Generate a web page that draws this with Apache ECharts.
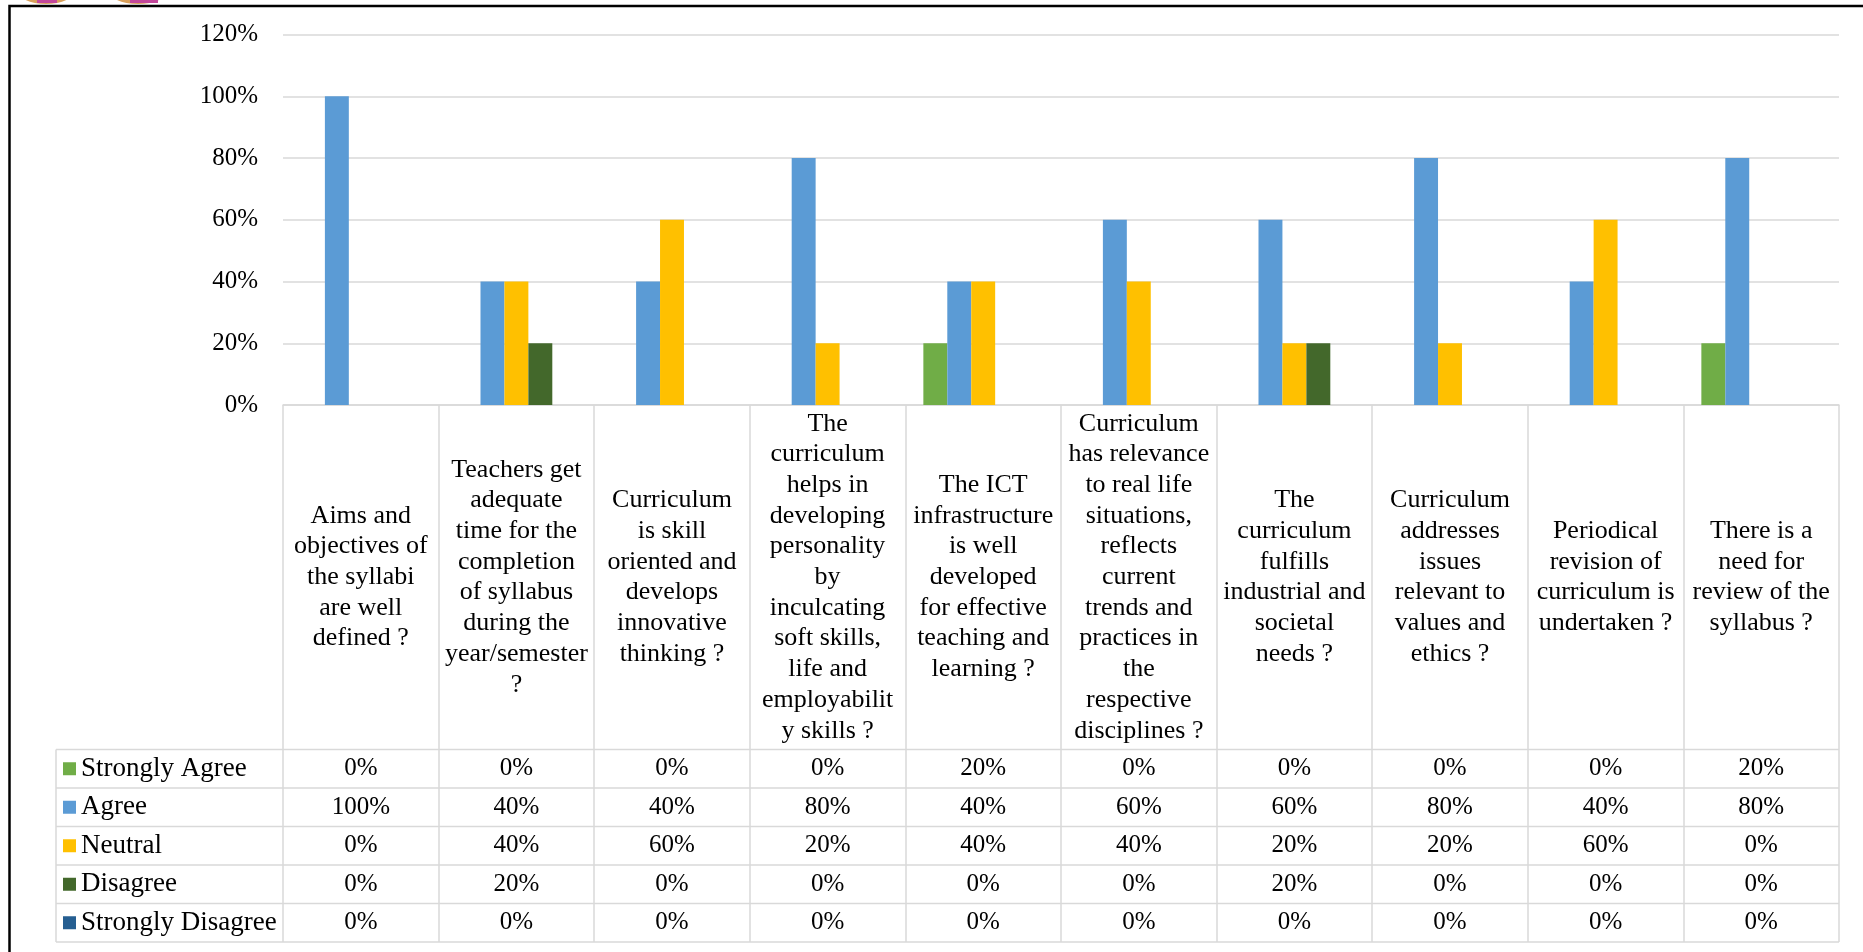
<!DOCTYPE html>
<html>
<head>
<meta charset="utf-8">
<script src="https://cdn.jsdelivr.net/npm/echarts@6/dist/echarts.min.js"></script>
<style>
html,body{margin:0;padding:0;background:#fff;}
#chart{width:1863px;height:952px;}
</style>
</head>
<body>
<div id="chart"></div>
<script>
// ---- data ----
var categories = [
  'Aims and\nobjectives of\nthe syllabi\nare well\ndefined ?',
  'Teachers get\nadequate\ntime for the\ncompletion\nof syllabus\nduring the\nyear/semester\n?',
  'Curriculum\nis skill\noriented and\ndevelops\ninnovative\nthinking ?',
  'The\ncurriculum\nhelps in\ndeveloping\npersonality\nby\ninculcating\nsoft skills,\nlife and\nemployabilit\ny skills ?',
  'The ICT\ninfrastructure\nis well\ndeveloped\nfor effective\nteaching and\nlearning ?',
  'Curriculum\nhas relevance\nto real life\nsituations,\nreflects\ncurrent\ntrends and\npractices in\nthe\nrespective\ndisciplines ?',
  'The\ncurriculum\nfulfills\nindustrial and\nsocietal\nneeds ?',
  'Curriculum\naddresses\nissues\nrelevant to\nvalues and\nethics ?',
  'Periodical\nrevision of\ncurriculum is\nundertaken ?',
  'There is a\nneed for\nreview of the\nsyllabus ?'
];
var seriesNames = ['Strongly Agree', 'Agree', 'Neutral', 'Disagree', 'Strongly Disagree'];
var stronglyAgree    = [0, 0, 0, 0, 20, 0, 0, 0, 0, 20];
var agree            = [100, 40, 40, 80, 40, 60, 60, 80, 40, 80];
var neutral          = [0, 40, 60, 20, 40, 40, 20, 20, 60, 0];
var disagree         = [0, 20, 0, 0, 0, 0, 20, 0, 0, 0];
var stronglyDisagree = [0, 0, 0, 0, 0, 0, 0, 0, 0, 0];
var yTicks = [0, 20, 40, 60, 80, 100, 120];

// ---- layout / style ----
var seriesValues = [stronglyAgree, agree, neutral, disagree, stronglyDisagree];
var colors = ['#70AD47', '#5B9BD5', '#FFC000', '#43682B', '#255E91'];
var FONT = '"Liberation Serif", "Times New Roman", serif';
var W = 1863, H = 952;
var gridLeft = 283, gridRight = 1839, gridTop = 34.5, axisY = 405;
var tableTop = 749.5, rowH = 38.5, nRows = 5;
var tableLeft = 56;
var tableBottom = tableTop + rowH * nRows;
var lineColor = '#d9d9d9';

var chart = echarts.init(document.getElementById('chart'), null, {renderer: 'canvas'});

var xAxes = [{
  type: 'category',
  data: categories,
  position: 'bottom',
  axisLine: {show: true, lineStyle: {color: lineColor, width: 1.5}},
  axisTick: {show: true, interval: 0, length: tableBottom - axisY, lineStyle: {color: lineColor, width: 1.5}},
  axisLabel: {
    interval: 0, margin: (tableTop - axisY) / 2, verticalAlign: 'middle', align: 'center',
    lineHeight: 30.7, fontSize: 26, fontFamily: FONT, color: '#000'
  },
  splitLine: {show: false}
}];
seriesValues.forEach(function (vals, k) {
  xAxes.push({
    type: 'category',
    gridIndex: 0,
    data: categories,
    position: 'bottom',
    axisLine: {show: false},
    axisTick: {show: false},
    splitLine: {show: false},
    axisLabel: {
      interval: 0,
      margin: tableTop + rowH * (k + 0.5) - axisY,
      verticalAlign: 'middle', align: 'center',
      fontSize: 25, fontFamily: FONT, color: '#000',
      formatter: (function (arr) { return function (v, i) { return arr[i] + '%'; }; })(vals)
    }
  });
});

var graphics = [];
for (var r = 0; r <= nRows; r++) {
  graphics.push({
    type: 'line', silent: true,
    shape: {x1: tableLeft, y1: tableTop + r * rowH, x2: gridRight, y2: tableTop + r * rowH},
    style: {stroke: lineColor, lineWidth: 1.5}
  });
}
graphics.push({
  type: 'line', silent: true,
  shape: {x1: tableLeft, y1: tableTop, x2: tableLeft, y2: tableBottom},
  style: {stroke: lineColor, lineWidth: 1.5}
});
// clipped logo sliver at the top-left (decoration)
graphics.push({type: 'ellipse', silent: true, shape: {cx: 46, cy: -10, rx: 29, ry: 14}, style: {fill: '#D9A05B'}});
graphics.push({type: 'ellipse', silent: true, shape: {cx: 138, cy: -10, rx: 30, ry: 14}, style: {fill: '#D9A05B'}});
graphics.push({type: 'rect', silent: true, shape: {x: 37, y: 0, width: 20, height: 3}, style: {fill: '#C2479A'}});
graphics.push({type: 'rect', silent: true, shape: {x: 130, y: 0, width: 28, height: 3}, style: {fill: '#C2479A'}});
// outer frame (left & top)
graphics.push({
  type: 'polyline', silent: true,
  shape: {points: [[9.5, H], [9.5, 6], [W, 6]]},
  style: {stroke: '#000', lineWidth: 2.5, fill: null}
});

var option = {
  animation: false,
  backgroundColor: '#fff',
  color: colors,
  grid: {left: gridLeft, right: W - gridRight, top: gridTop, bottom: H - axisY, containLabel: false},
  legend: {
    orient: 'vertical', left: 63, top: tableTop, padding: 0,
    itemWidth: 13, itemHeight: 13, itemGap: 0, icon: 'rect',
    selectedMode: false,
    textStyle: {fontFamily: FONT, fontSize: 27, lineHeight: rowH, color: '#000'},
    data: seriesNames
  },
  xAxis: xAxes,
  yAxis: {
    type: 'value', min: yTicks[0], max: yTicks[yTicks.length - 1], interval: yTicks[1] - yTicks[0],
    axisLine: {show: false}, axisTick: {show: false},
    axisLabel: {margin: 25, fontSize: 25, fontFamily: FONT, color: '#000', formatter: '{value}%'},
    splitLine: {lineStyle: {color: lineColor, width: 1.5}}
  },
  graphic: graphics,
  series: seriesNames.map(function (name, k) {
    return {
      name: name, type: 'bar', xAxisIndex: 0,
      data: seriesValues[k],
      barGap: '0%', barCategoryGap: (1.5 / 6.5 * 100).toFixed(2) + '%',
      itemStyle: {color: colors[k]}
    };
  })
};
chart.setOption(option);
</script>
</body>
</html>
